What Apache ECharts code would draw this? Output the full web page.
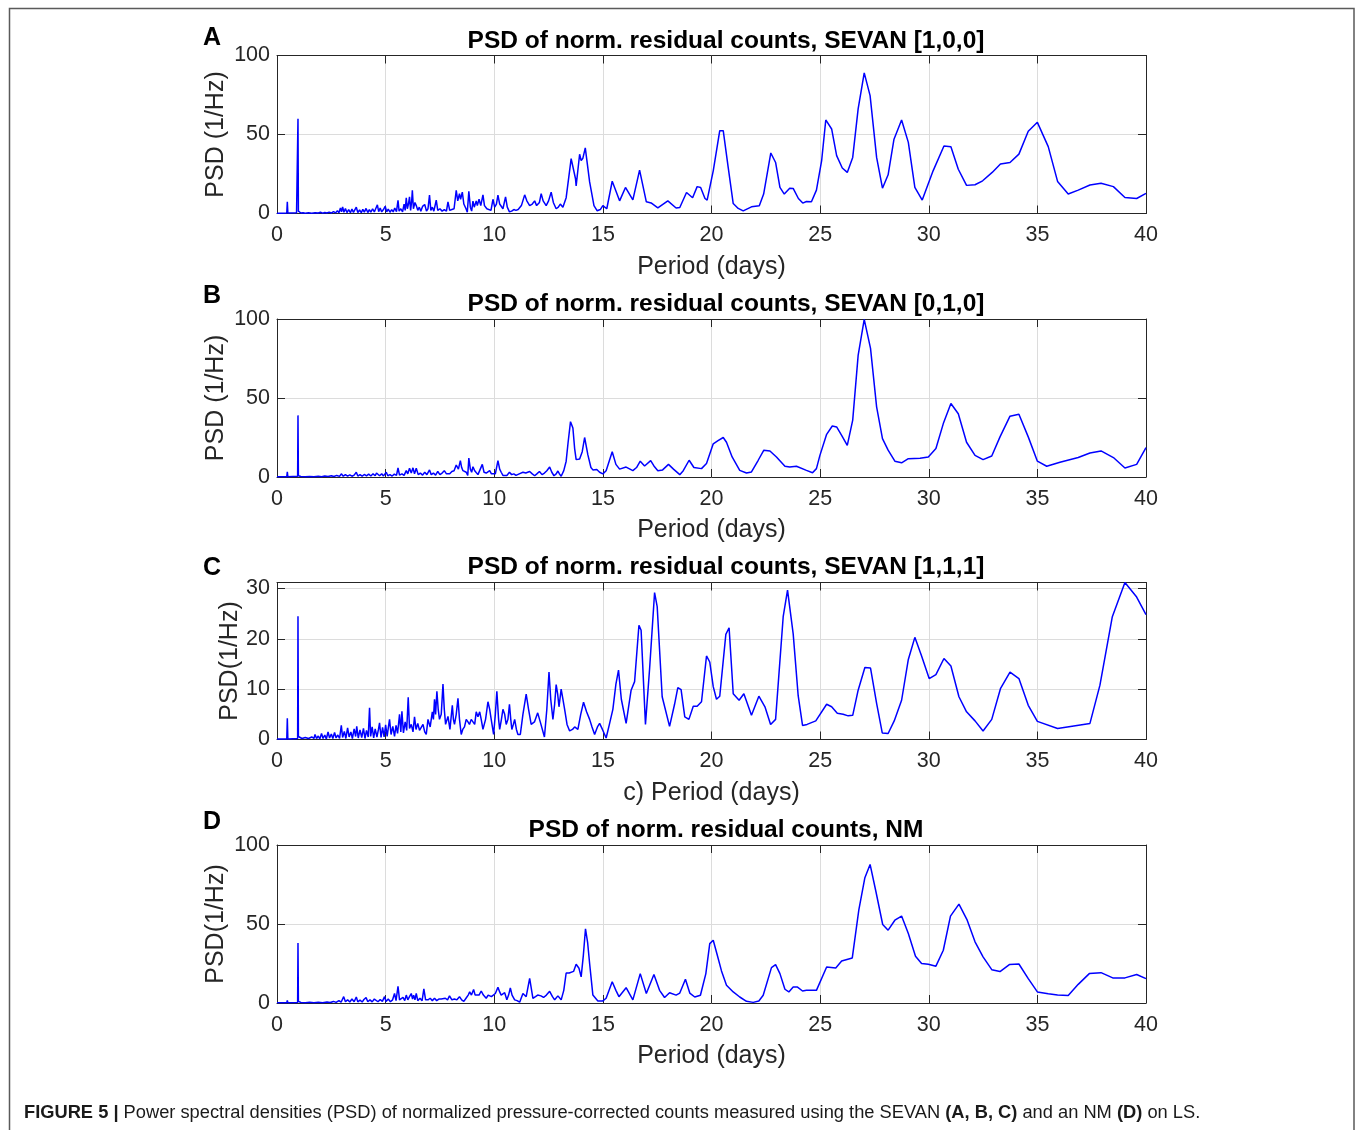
<!DOCTYPE html>
<html>
<head>
<meta charset="utf-8">
<title>PSD of normalized residual counts</title>
<script src="https://cdn.jsdelivr.net/npm/echarts@6/dist/echarts.min.js"></script>
<style>
  html, body { margin: 0; padding: 0; background: #ffffff; }
  #chart { width: 1355px; height: 1130px; }
</style>
</head>
<body>
<div id="chart"></div>
<script>
// Period axis (days) shared by every panel
const periodTicks = [0, 5, 10, 15, 20, 25, 30, 35, 40];

// [period (days), PSD (1/Hz)] — SEVAN [1,0,0]
const psdA = [
  [0,0.2],[0.2,0.1],[0.45,0.3],[0.475,7.4],[0.5,0.3],[0.9,0.4],[0.95,1.0],[0.966,60],[0.985,1.5],[1.05,0.6],
  [1.1,0.3],[1.2,0.5],[1.3,0.2],[1.45,0.4],[1.6,0.2],[1.75,0.5],[1.9,0.3],[2.0,0.8],[2.1,0.2],[2.2,0.6],
  [2.3,0.3],[2.4,0.9],[2.5,0.3],[2.6,1.2],[2.7,0.4],[2.78,1.8],[2.85,0.5],[2.92,3.5],[2.97,1.0],[3.02,4.2],
  [3.08,0.8],[3.15,3.1],[3.22,0.6],[3.3,2.5],[3.38,0.5],[3.45,2.8],[3.52,0.7],[3.6,1.5],[3.65,4.0],[3.72,0.6],
  [3.8,2.2],[3.88,0.5],[3.95,2.6],[4.02,0.9],[4.1,3.2],[4.18,0.6],[4.25,2.4],[4.32,0.8],[4.4,3.0],[4.48,1.0],
  [4.55,2.0],[4.62,5.5],[4.68,1.2],[4.75,3.5],[4.82,1.0],[4.9,2.5],[4.98,4.6],[5.05,1.0],[5.12,2.8],[5.2,0.8],
  [5.28,2.5],[5.35,1.0],[5.42,3.5],[5.5,1.2],[5.57,8.4],[5.62,1.5],[5.7,3.0],[5.78,1.0],[5.85,6.0],[5.9,2.0],
  [5.95,10],[6.0,3],[6.05,6],[6.1,10.5],[6.15,2],[6.2,8],[6.23,14.7],[6.28,3],[6.35,7],[6.41,5],
  [6.48,2],[6.55,4],[6.62,1.5],[6.7,4.5],[6.8,5.7],[6.88,1.5],[6.95,3],[7.02,11.6],[7.08,2],[7.15,4],
  [7.22,1.5],[7.33,8.4],[7.4,2],[7.5,3],[7.6,1.5],[7.7,2.5],[7.8,1.5],[7.87,7.4],[7.95,2],[8.05,2.5],
  [8.15,3],[8.25,14.7],[8.32,8],[8.4,12.6],[8.45,9],[8.53,13.5],[8.6,6],[8.7,3],[8.76,0.8],[8.83,14.1],
  [8.9,4],[8.96,1.5],[9.02,7.8],[9.08,4],[9.17,8],[9.22,5],[9.3,9],[9.38,5],[9.48,11.8],[9.55,5],
  [9.66,3],[9.75,4],[9.85,2],[9.94,9],[10.02,4],[10.1,6],[10.17,11.6],[10.25,6],[10.32,7],[10.4,3],
  [10.52,10.5],[10.6,4],[10.7,1],[10.8,1.5],[10.9,2.5],[11.0,2],[11.1,2.5],[11.25,5],[11.4,11.8],[11.5,8],
  [11.63,5],[11.75,6],[11.86,8],[11.95,5],[12.0,4],[12.08,7],[12.16,12.6],[12.25,8],[12.39,5],[12.5,8],
  [12.62,13.5],[12.72,7],[12.85,3],[12.95,4],[13.04,6],[13.16,4],[13.31,10],[13.54,34.7],[13.62,35.5],[13.74,22],
  [13.77,17.5],[13.93,37.5],[14.0,33.5],[14.08,35],[14.19,41.5],[14.39,20],[14.59,5],[14.74,1.7],[14.88,2.5],[15.0,5],
  [15.18,3],[15.43,20.4],[15.77,8],[16.04,16.5],[16.38,8.6],[16.69,27.4],[17.0,7.4],[17.22,6.7],[17.53,3.5],[17.99,8],
  [18.37,3.5],[18.54,3.8],[18.85,13.3],[19.13,10],[19.34,17],[19.5,16.5],[19.7,9.5],[19.8,8.5],[20.08,27],[20.38,52.4],
  [20.54,52.4],[20.77,29],[21.0,6.3],[21.23,3.2],[21.46,1.7],[21.84,4.2],[22.2,4.9],[22.4,12.3],[22.73,38.3],[22.95,32.3],
  [23.15,16.5],[23.35,12.3],[23.6,16],[23.76,15.9],[24.0,9.5],[24.2,6.6],[24.37,7.6],[24.6,7.4],[24.83,14.8],[25.07,33.4],
  [25.26,59.2],[25.53,53.5],[25.76,36.6],[26.02,28.8],[26.25,26],[26.5,35.5],[26.75,66.2],[27.03,89],[27.3,74.6],[27.6,35.5],
  [27.87,16],[28.13,24.5],[28.4,47],[28.75,59.2],[29.06,45],[29.36,16.5],[29.7,8.5],[30.2,27],[30.7,42.7],[31.02,42.3],
  [31.36,28],[31.74,17.8],[32.13,18.2],[32.48,20.7],[32.92,26],[33.3,31.3],[33.74,32.3],[34.15,37.6],[34.58,52],[35.0,57.7],
  [35.5,42.3],[35.93,20.3],[36.42,12.3],[36.88,14.8],[37.42,18],[37.93,19.2],[38.5,17],[39.03,10.1],[39.57,9.5],[40.0,12.7]
];

// [period (days), PSD (1/Hz)] — SEVAN [0,1,0]
const psdB = [
  [0,0.1],[0.45,0.2],[0.475,3.2],[0.5,0.2],[0.95,0.5],[0.966,39],[0.985,0.8],[1.1,0.3],[1.3,0.2],[1.5,0.3],
  [1.7,0.2],[1.9,0.5],[2.05,0.2],[2.2,0.6],[2.35,0.3],[2.5,0.8],[2.62,0.3],[2.75,1.0],[2.88,0.4],[2.96,2.0],
  [3.05,0.5],[3.15,1.5],[3.25,0.6],[3.35,1.3],[3.45,0.5],[3.55,1.2],[3.65,3.0],[3.72,0.6],[3.82,1.5],[3.92,0.5],
  [4.02,1.6],[4.12,0.7],[4.22,1.8],[4.32,0.6],[4.42,2.0],[4.52,0.8],[4.58,2.5],[4.65,3.0],[4.72,0.8],[4.82,2.0],
  [4.9,0.7],[5.03,3.0],[5.1,0.8],[5.2,1.5],[5.3,0.6],[5.4,1.8],[5.5,1.0],[5.57,5.7],[5.64,1.2],[5.75,2.0],
  [5.85,1.0],[5.95,4],[6.02,2],[6.1,5.5],[6.18,2.5],[6.26,5.8],[6.33,2],[6.41,5.5],[6.5,1.5],[6.6,2.5],
  [6.7,1.2],[6.8,3],[6.9,1.5],[7.02,4.5],[7.1,1.5],[7.2,2.5],[7.3,1.2],[7.4,3.5],[7.5,1.5],[7.6,2.5],
  [7.7,4],[7.8,2],[7.87,3],[7.95,2],[8.05,3.5],[8.15,4],[8.25,7.6],[8.35,5],[8.44,10.4],[8.5,6],
  [8.56,4],[8.64,5],[8.71,3],[8.78,1],[8.83,12],[8.9,5],[8.96,3],[9.02,6.5],[9.1,4],[9.17,3],
  [9.25,1.5],[9.33,2],[9.45,8],[9.53,3],[9.63,2.5],[9.72,3.5],[9.79,4],[9.87,2],[9.94,3],[10.05,2],
  [10.17,10.4],[10.25,5],[10.32,3],[10.4,1],[10.48,2],[10.58,1],[10.7,3],[10.8,1.5],[10.9,2],[11.0,1],
  [11.15,2],[11.32,3],[11.45,2.5],[11.63,3.5],[11.75,2],[11.86,0.8],[11.96,2],[12.08,3.5],[12.2,1.5],[12.31,2.5],
  [12.42,4],[12.55,6.3],[12.65,3],[12.75,0.8],[12.85,2],[12.93,3.8],[13.0,2],[13.08,0.5],[13.2,4],[13.31,10],
  [13.4,22],[13.51,35],[13.62,31],[13.7,18],[13.77,11],[13.93,11.4],[14.05,16],[14.16,25],[14.31,14],[14.45,6],
  [14.54,4.5],[14.62,4],[14.72,4.7],[14.85,3],[15.0,2],[15.15,4],[15.43,16],[15.6,8],[15.77,5],[16.07,6.3],
  [16.38,4],[16.55,6],[16.72,10],[16.92,7],[17.2,10.4],[17.35,7],[17.53,4],[17.75,4.5],[18.02,8],[18.25,5],
  [18.54,1.5],[18.7,4],[18.97,10.6],[19.19,6],[19.54,5.3],[19.77,8.5],[20.08,21],[20.3,23],[20.54,25],[20.69,22],
  [20.95,12.7],[21.3,4.2],[21.61,2.5],[21.84,3.2],[22.15,10.6],[22.41,17],[22.69,16.5],[22.99,12.7],[23.38,6.8],[23.6,6.3],
  [23.91,6.8],[24.37,4.2],[24.65,2.7],[24.83,5.3],[24.99,13.7],[25.3,27],[25.56,32.3],[25.76,31.7],[25.99,26.4],[26.25,20],
  [26.5,36],[26.75,77],[27.03,99.8],[27.32,81.4],[27.6,44.4],[27.87,24.3],[28.13,17],[28.44,10],[28.75,9],[29.06,11.6],
  [29.6,11.8],[29.98,12.7],[30.33,18],[30.67,33.8],[31.02,46.5],[31.36,40],[31.74,22],[32.13,13.7],[32.5,11],[32.9,13.3],
  [33.28,25.4],[33.74,38.5],[34.15,39.7],[34.58,25.4],[35.0,10],[35.43,6.8],[36.04,9.3],[36.88,12.3],[37.42,15.2],[37.93,16.5],
  [38.5,12.3],[39.03,5.7],[39.57,8],[40.0,18.6]
];

// [period (days), PSD (1/Hz)] — SEVAN [1,1,1]
const psdC = [
  [0,0.1],[0.45,0.1],[0.475,4.2],[0.5,0.1],[0.95,0.2],[0.966,24.5],[0.985,0.6],[1.05,0.4],[1.15,0.2],[1.3,0.4],
  [1.45,0.2],[1.6,0.5],[1.7,0.2],[1.75,1.0],[1.82,0.2],[1.9,0.7],[1.97,0.1],[2.05,1.2],[2.12,0.2],[2.2,0.9],
  [2.27,0.1],[2.35,1.5],[2.42,0.3],[2.5,1.1],[2.57,0.2],[2.65,1.4],[2.72,0.3],[2.8,0.9],[2.88,0.2],[2.96,2.8],
  [3.02,0.4],[3.1,1.6],[3.17,0.2],[3.25,2.3],[3.32,0.5],[3.4,1.5],[3.47,0.2],[3.55,2.1],[3.62,0.6],[3.67,2.6],
  [3.74,0.3],[3.82,1.9],[3.9,0.4],[3.98,2.2],[4.05,0.2],[4.12,1.8],[4.2,0.5],[4.26,6.3],[4.31,0.6],[4.38,2.5],
  [4.45,0.3],[4.52,2.1],[4.6,0.5],[4.67,2.0],[4.72,3.3],[4.79,0.4],[4.86,2.4],[4.93,0.5],[5.0,2.9],[5.07,0.6],
  [5.12,2.2],[5.18,4.0],[5.25,1.0],[5.33,2.6],[5.41,0.6],[5.48,2.8],[5.55,1.2],[5.64,5.0],[5.7,1.5],[5.75,5.6],
  [5.82,1.3],[5.9,3.5],[5.97,1.8],[6.04,8.4],[6.1,2.2],[6.18,3],[6.26,1.5],[6.33,4.5],[6.4,2.0],[6.48,3.2],
  [6.56,1.8],[6.64,2],[6.72,3],[6.8,1.5],[6.87,1],[6.95,4],[7.05,2.5],[7.15,5.5],[7.2,4],[7.25,8],
  [7.3,5],[7.36,9.6],[7.42,6],[7.48,4],[7.56,5],[7.64,11],[7.7,6],[7.76,3],[7.87,4.6],[7.96,2],
  [8.07,6.8],[8.12,4],[8.17,3],[8.25,5],[8.33,8.2],[8.4,4],[8.48,1],[8.55,2],[8.63,2.5],[8.71,4],
  [8.79,3.5],[8.86,3],[8.94,4],[9.02,3.8],[9.1,3],[9.17,5.5],[9.25,4.5],[9.33,5.5],[9.4,4],[9.48,2],
  [9.6,4],[9.71,7.5],[9.79,6],[9.86,4],[9.97,1],[10.05,5],[10.12,9.6],[10.2,4],[10.25,2],[10.33,4],
  [10.4,6],[10.48,5],[10.55,3],[10.63,4],[10.7,7],[10.76,4],[10.81,2],[10.88,3],[10.94,4],[11.02,2],
  [11.09,1],[11.2,1],[11.32,5],[11.47,9],[11.58,6],[11.7,3],[11.85,3.5],[12.0,5.3],[12.15,3],[12.31,0.5],
  [12.42,6],[12.52,13.4],[12.6,8],[12.7,4],[12.78,7],[12.85,10.9],[12.92,9],[12.98,6.5],[13.08,10],[13.16,8],
  [13.24,6],[13.35,3],[13.47,1.7],[13.6,2],[13.7,2.5],[13.85,2],[13.98,5],[14.11,7.4],[14.25,5.5],[14.39,4],
  [14.5,2.5],[14.62,1],[14.75,2.5],[14.85,3.2],[14.98,2],[15.15,0.3],[15.3,3],[15.46,6],[15.6,11],[15.72,13.8],
  [15.85,8],[16.07,3.2],[16.3,9.8],[16.46,11.5],[16.66,22.7],[16.76,21.7],[16.96,3],[17.15,14],[17.38,29.2],[17.5,26.4],
  [17.73,8.5],[18.07,2.6],[18.3,7],[18.45,10.3],[18.6,9.9],[18.77,4.5],[18.96,4],[19.16,6.6],[19.34,6.6],[19.54,7.5],
  [19.77,16.6],[19.92,15.4],[20.08,10.5],[20.23,8],[20.38,8.6],[20.66,20.9],[20.81,22.2],[21.0,9.1],[21.27,7.8],[21.49,9.1],
  [21.84,4.8],[22.18,8.6],[22.46,6.5],[22.72,3],[22.95,4],[23.3,24.4],[23.5,29.7],[23.76,21],[23.99,8.7],[24.19,2.8],
  [24.4,3],[24.8,3.7],[25.3,7],[25.53,6.5],[25.79,5.2],[26.06,5],[26.29,4.7],[26.5,4.8],[26.75,9.8],[27.06,14.3],
  [27.32,14.2],[27.6,7.2],[27.86,1.3],[28.13,1.2],[28.41,3.7],[28.75,7.8],[29.06,15.9],[29.36,20.3],[29.67,16.6],[30.02,12.1],
  [30.33,12.9],[30.7,16.1],[31.02,14.6],[31.39,8.5],[31.74,5.5],[32.13,3.7],[32.5,1.7],[32.9,4],[33.3,10.1],[33.74,13.4],
  [34.15,12.1],[34.58,6.8],[35.0,3.6],[35.93,2.2],[37.42,3.2],[37.88,10.8],[38.45,24.4],[39.03,31.2],[39.57,28.3],[40.0,24.8]
];

// [period (days), PSD (1/Hz)] — NM
const psdD = [
  [0,0.1],[0.45,0.2],[0.475,1.7],[0.5,0.2],[0.95,0.3],[0.966,38],[0.985,1.0],[1.1,0.3],[1.3,0.2],[1.5,0.4],
  [1.7,0.2],[1.9,0.5],[2.1,0.2],[2.3,0.6],[2.45,0.3],[2.6,1.0],[2.72,0.4],[2.85,1.5],[2.95,0.5],[3.07,4],
  [3.15,0.8],[3.25,2.0],[3.35,0.6],[3.45,2.5],[3.55,0.8],[3.65,3.8],[3.72,0.7],[3.82,1.8],[3.92,0.6],[4.0,2.2],
  [4.1,3.4],[4.18,0.8],[4.28,2.0],[4.38,0.7],[4.48,2.5],[4.57,3.0],[4.65,0.8],[4.75,2.2],[4.85,1.0],[4.95,4],
  [5.02,1.0],[5.12,2.5],[5.22,0.8],[5.32,2.0],[5.41,6],[5.48,1.5],[5.57,10.6],[5.64,2],[5.72,2],[5.8,3.5],
  [5.88,1.5],[5.95,5],[6.02,2],[6.1,4],[6.18,6],[6.24,2.5],[6.29,5],[6.35,2],[6.41,6],[6.48,1.5],
  [6.58,3],[6.68,1.5],[6.76,9],[6.84,2],[6.95,2],[7.05,3],[7.15,1.5],[7.25,3],[7.35,1.5],[7.45,2.5],
  [7.56,2.5],[7.65,1.5],[7.75,3],[7.85,2],[7.94,4.5],[8.05,2],[8.17,2.5],[8.28,2],[8.4,4],[8.5,2],
  [8.6,1],[8.7,3],[8.8,5],[8.87,7],[8.95,5],[9.05,8.5],[9.12,5],[9.2,4],[9.3,5],[9.4,7.6],
  [9.5,5],[9.63,3],[9.72,5],[9.79,5.5],[9.87,4],[9.94,4],[10.05,6],[10.17,10],[10.25,7],[10.32,5],
  [10.4,5],[10.48,6.5],[10.58,2],[10.66,5],[10.74,9.5],[10.82,5],[10.94,2],[11.05,1.5],[11.17,0.5],[11.32,6],
  [11.47,4],[11.63,15.6],[11.78,3],[11.9,4],[12.0,5],[12.15,4.5],[12.27,3.5],[12.4,5],[12.55,7.4],[12.68,4],
  [12.78,2],[12.93,4.5],[13.08,2],[13.2,8],[13.31,19],[13.45,19],[13.54,18.6],[13.65,20],[13.77,24.5],[13.9,22],
  [14.0,16.5],[14.1,30],[14.2,47],[14.3,38],[14.39,25],[14.54,5],[14.77,1.3],[15.0,1.3],[15.15,3],[15.43,13.5],
  [15.6,8],[15.74,4],[16.07,9.7],[16.38,2],[16.72,18.6],[17.0,6],[17.35,18],[17.61,8],[17.84,3.5],[18.07,6.5],
  [18.37,5],[18.54,6.3],[18.8,15],[19.0,6.3],[19.23,3.8],[19.49,4.9],[19.74,18.6],[19.92,37.6],[20.08,39.7],[20.28,29.6],
  [20.46,20.3],[20.69,11.2],[21.0,7],[21.3,3.8],[21.61,1.1],[21.92,0.4],[22.18,1.3],[22.38,4.9],[22.76,22.4],[22.95,24.3],
  [23.15,18.6],[23.38,8.7],[23.56,7],[23.76,10.1],[23.96,10.1],[24.19,7.6],[24.37,8],[24.83,8],[25.3,22.8],[25.72,22.2],
  [25.99,26.6],[26.48,28.5],[26.78,58.8],[27.06,79.3],[27.3,87.7],[27.57,70.4],[27.88,49.7],[28.13,46.1],[28.44,52.4],[28.75,55],
  [29.06,44],[29.39,29.6],[29.67,25],[29.98,24.5],[30.33,23.3],[30.67,33.4],[31.0,55],[31.39,62.6],[31.77,52.4],[32.13,38.7],
  [32.5,29.2],[32.9,21.1],[33.28,19.9],[33.71,24.3],[34.15,24.7],[34.58,15.4],[35.0,7],[35.5,5.9],[35.93,5.1],[36.42,4.7],
  [36.88,11.8],[37.39,18.6],[37.93,19.2],[38.47,15.9],[39.03,15.9],[39.57,18],[40.0,15.4]
];

// PSD tick values per panel
const yTicksA = [0, 50, 100];
const yTicksB = [0, 50, 100];
const yTicksC = [0, 10, 20, 30];
const yTicksD = [0, 50, 100];

const panels = [
  { letter: 'A', title: 'PSD of norm. residual counts, SEVAN [1,0,0]', yName: 'PSD (1/Hz)', xName: 'Period (days)',
    data: psdA, ticks: yTicksA, yMax: 100, top: 55.5, height: 158, yNameX: 216, titleY: 41.5, letterY: 38.5 },
  { letter: 'B', title: 'PSD of norm. residual counts, SEVAN [0,1,0]', yName: 'PSD (1/Hz)', xName: 'Period (days)',
    data: psdB, ticks: yTicksB, yMax: 100, top: 319, height: 158, yNameX: 216, titleY: 304, letterY: 296.5 },
  { letter: 'C', title: 'PSD of norm. residual counts, SEVAN [1,1,1]', yName: 'PSD(1/Hz)', xName: 'c) Period (days)',
    data: psdC, ticks: yTicksC, yMax: 31.2, top: 582.5, height: 157, yNameX: 230, titleY: 567.5, letterY: 568.5 },
  { letter: 'D', title: 'PSD of norm. residual counts, NM', yName: 'PSD(1/Hz)', xName: 'Period (days)',
    data: psdD, ticks: yTicksD, yMax: 100, top: 845, height: 158, yNameX: 216, titleY: 830, letterY: 822.5 }
];

const FONT = '"Liberation Sans", Arial, Helvetica, sans-serif';
const AXIS_COLOR = '#262626';
const GRID_COLOR = '#dcdcdc';
const PLOT_LEFT = 277, PLOT_WIDTH = 869;

const grids = [], xAxes = [], yAxes = [], series = [], graphics = [];

panels.forEach((p, i) => {
  grids.push({ left: PLOT_LEFT, width: PLOT_WIDTH, top: p.top, height: p.height, containLabel: false });

  const step = p.ticks[1] - p.ticks[0];
  const tickStyle = { show: true, inside: true, length: 8, lineStyle: { color: AXIS_COLOR, width: 1 } };
  const lineStyle = { show: true, onZero: false, lineStyle: { color: AXIS_COLOR, width: 1 } };

  // bottom period axis with labels and grid lines
  xAxes.push({
    type: 'value', gridIndex: i, position: 'bottom',
    min: periodTicks[0], max: periodTicks[periodTicks.length - 1], interval: periodTicks[1] - periodTicks[0],
    axisLine: lineStyle, axisTick: tickStyle,
    axisLabel: { color: AXIS_COLOR, fontSize: 21.5, fontFamily: FONT, margin: 11 },
    splitLine: { show: true, lineStyle: { color: GRID_COLOR, width: 1 } },
    name: p.xName, nameLocation: 'middle', nameGap: 41,
    nameTextStyle: { color: AXIS_COLOR, fontSize: 25, fontFamily: FONT }
  });
  // top edge of the box
  xAxes.push({
    type: 'value', gridIndex: i, position: 'top',
    min: periodTicks[0], max: periodTicks[periodTicks.length - 1], interval: periodTicks[1] - periodTicks[0],
    axisLine: lineStyle, axisTick: tickStyle, axisLabel: { show: false }, splitLine: { show: false }
  });
  // left PSD axis (its title is placed below as rotated text)
  yAxes.push({
    type: 'value', gridIndex: i, position: 'left',
    min: 0, max: p.yMax, interval: step,
    axisLine: lineStyle, axisTick: tickStyle,
    axisLabel: {
      color: AXIS_COLOR, fontSize: 21.5, fontFamily: FONT, margin: 7,
      formatter: v => (p.ticks.indexOf(v) >= 0 ? String(v) : '')
    },
    splitLine: { show: true, lineStyle: { color: GRID_COLOR, width: 1 } }
  });
  // right edge of the box
  yAxes.push({
    type: 'value', gridIndex: i, position: 'right',
    min: 0, max: p.yMax, interval: step,
    axisLine: lineStyle, axisTick: tickStyle, axisLabel: { show: false }, splitLine: { show: false }
  });

  series.push({
    type: 'line', xAxisIndex: 2 * i, yAxisIndex: 2 * i,
    data: p.data, showSymbol: false, symbol: 'none', silent: true, clip: true,
    lineStyle: { color: '#0000ff', width: 1.5 }
  });

  // y-axis title, rotated, centred on the plot height
  graphics.push({
    type: 'text', x: p.yNameX, y: p.top + p.height / 2, rotation: Math.PI / 2,
    style: { text: p.yName, font: '25px ' + FONT, fill: AXIS_COLOR, textAlign: 'center', textVerticalAlign: 'middle' }
  });
  graphics.push({
    type: 'text', x: 726, y: p.titleY,
    style: { text: p.title, font: 'bold 24.5px ' + FONT, fill: '#000', textAlign: 'center', textVerticalAlign: 'middle' }
  });
  graphics.push({
    type: 'text', x: 212, y: p.letterY,
    style: { text: p.letter, font: 'bold 25px ' + FONT, fill: '#000', textAlign: 'center', textVerticalAlign: 'middle' }
  });
});

// figure frame
graphics.push({
  type: 'rect', z: -1,
  shape: { x: 9.5, y: 8.5, width: 1344.5, height: 1200 },
  style: { fill: null, stroke: '#5a5a5a', lineWidth: 1.5 }
});

// caption
graphics.push({
  type: 'text', x: 24, y: 1113,
  style: {
    text: '{b|FIGURE 5 |} Power spectral densities (PSD) of normalized pressure-corrected counts measured using the SEVAN {b|(A, B, C)} and an NM {b|(D)} on LS.',
    font: '18.3px ' + FONT, fill: '#1a1a1a', textAlign: 'left', textVerticalAlign: 'middle',
    rich: { b: { font: 'bold 18.3px ' + FONT, fill: '#1a1a1a' } }
  }
});

const chart = echarts.init(document.getElementById('chart'), null, { renderer: 'canvas' });
chart.setOption({
  backgroundColor: '#ffffff',
  animation: false,
  grid: grids,
  xAxis: xAxes,
  yAxis: yAxes,
  series: series,
  graphic: graphics
});
</script>
</body>
</html>
